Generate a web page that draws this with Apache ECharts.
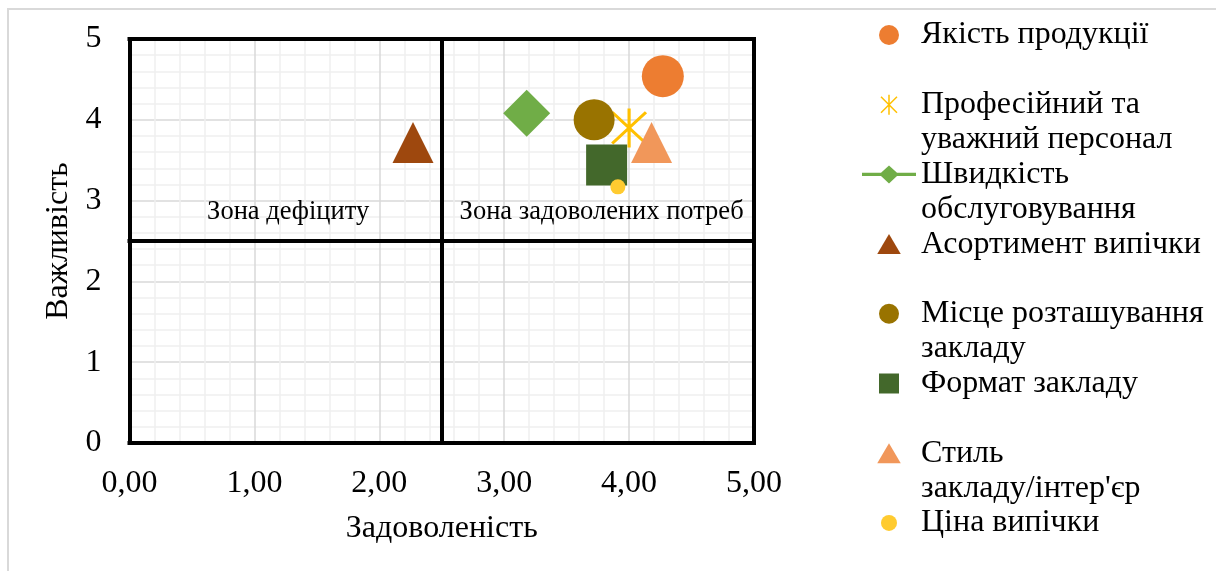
<!DOCTYPE html>
<html>
<head>
<meta charset="utf-8">
<script src="https://cdn.jsdelivr.net/npm/echarts@6/dist/echarts.min.js"></script>
<style>
html,body{margin:0;padding:0;background:#fff;}
#chart{width:1216px;height:571px;}
</style>
</head>
<body>
<div id="chart"></div>
<script>
// ---- data ----
const seriesNames = [
  'Якість продукції',
  'Професійний та уважний персонал',
  'Швидкість обслуговування',
  'Асортимент випічки',
  'Місце розташування закладу',
  'Формат закладу',
  "Стиль закладу/інтер'єр",
  'Ціна випічки'
];
const legendFirstLines = ['Якість продукції', 'Професійний та', 'Швидкість', 'Асортимент випічки', 'Місце розташування', 'Формат закладу', 'Стиль', 'Ціна випічки'];
const legendSecondLines = ['', 'уважний персонал', 'обслуговування', '', 'закладу', '', "закладу/інтер'єр", ''];
const satisfaction = [4.27, 4.00, 3.18, 2.27, 3.72, 3.82, 4.18, 3.91];
const importance   = [4.54, 3.90, 4.08, 3.72, 4.00, 3.44, 3.72, 3.17];
const zoneLabels = ['Зона дефіциту', 'Зона задоволених потреб'];
const zoneX = [1.27, 3.78];
const zoneY = [2.86, 2.86];
const thresholdX = 2.5;
const thresholdY = 2.5;
const axisMin = 0, axisMax = 5, axisStep = 1;
const xAxisTitle = 'Задоволеність';
const yAxisTitle = 'Важливість';

// ---- styles ----
const FONT = 'Liberation Serif';
const FS = 32;
const colors = ['#ED7D31', '#FFC000', '#70AD47', '#9E480E', '#997300', '#43682B', '#F1975A', '#FFCB30'];
const asteriskPath = 'path://M9.25,0L10.75,0L10.75,20L9.25,20ZM2.53,1.47L18.53,17.47L17.47,18.53L1.47,2.53ZM17.47,1.47L18.53,2.53L2.53,18.53L1.47,17.47Z';
const lineDiamondPath = 'path://M0,7.3L19,7.3L27,0L35,7.3L54,7.3L54,10.7L35,10.7L27,18L19,10.7L0,10.7Z';
const triPath = 'path://M10,0L20,17L0,17Z';
const rectPath = 'path://M0,0L19,0L19,19L0,19Z';
const smallCirclePath = 'path://M0,0M20,20M10,2A8,8,0,1,1,10,18A8,8,0,1,1,10,2Z';
const symbols = ['circle', asteriskPath, 'diamond', 'triangle', 'circle', 'rect', 'triangle', 'circle'];
const symbolSizes = [42, [36, 39], 47, 41, 41, 41, 41, 15];
const legendIcons = ['circle', asteriskPath, lineDiamondPath, triPath, 'circle', rectPath, triPath, smallCirclePath];

const LEG_LEFT = 862, LEG_TOP = 17.5, LEG_STEP = 69.7, LEG_LINE = 35;

const chart = echarts.init(document.getElementById('chart'), null, {renderer: 'canvas'});

const series = seriesNames.map((name, i) => ({
  name: name,
  type: 'scatter',
  symbol: symbols[i],
  symbolSize: symbolSizes[i],
  itemStyle: {color: colors[i], opacity: 1},
  emphasis: {disabled: true},
  data: [[satisfaction[i], importance[i]]],
  z: 3
}));

series.push({
  name: '__zones',
  type: 'scatter',
  symbolSize: 0.1,
  clip: false,
  silent: true,
  itemStyle: {color: '#000', opacity: 1},
  label: {
    show: true,
    position: 'inside',
    formatter: p => zoneLabels[p.dataIndex],
    fontFamily: FONT,
    fontSize: 26.5,
    color: '#000',
    opacity: 1
  },
  data: zoneX.map((x, i) => [x, zoneY[i]]),
  markLine: {
    silent: true,
    symbol: ['none', 'none'],
    label: {show: false},
    emphasis: {disabled: true},
    animation: false,
    lineStyle: {color: '#000', width: 4, type: 'solid', cap: 'square', opacity: 1},
    data: [
      {xAxis: axisMin}, {xAxis: thresholdX}, {xAxis: axisMax},
      {yAxis: axisMin}, {yAxis: thresholdY}, {yAxis: axisMax}
    ]
  },
  z: 2
});

const graphics = [{
  type: 'rect',
  shape: {x: 8, y: 9, width: 1400, height: 800},
  style: {fill: 'none', stroke: '#D9D9D9', lineWidth: 2},
  silent: true,
  z: -1
}];
legendSecondLines.forEach((t, i) => {
  if (!t) return;
  graphics.push({
    type: 'text',
    left: LEG_LEFT + 59,
    top: LEG_TOP + LEG_STEP * i + LEG_LINE,
    style: {text: t, font: FS + 'px "' + FONT + '"', fill: '#000', lineHeight: LEG_LINE, verticalAlign: 'top'},
    silent: true
  });
});

const axisCommon = {
  type: 'value',
  min: axisMin,
  max: axisMax,
  interval: axisStep,
  axisLine: {show: false},
  axisTick: {show: false},
  minorTick: {show: false, splitNumber: 5},
  splitLine: {show: true, lineStyle: {color: '#D9D9D9', width: 1.5}},
  minorSplitLine: {show: true, lineStyle: {color: '#EFEFEF', width: 1.5}},
  nameLocation: 'middle',
  nameTextStyle: {fontFamily: FONT, fontSize: FS, color: '#000'}
};

chart.setOption({
  animation: false,
  backgroundColor: '#fff',
  grid: {left: 129.5, right: 462, top: 39, bottom: 128, containLabel: false},
  xAxis: Object.assign({}, axisCommon, {
    name: xAxisTitle,
    nameGap: 70,
    axisLabel: {
      margin: 25,
      fontFamily: FONT, fontSize: FS, color: '#000',
      formatter: v => v.toFixed(2).replace('.', ',')
    }
  }),
  yAxis: Object.assign({}, axisCommon, {
    name: yAxisTitle,
    nameGap: 48,
    axisLabel: {margin: 28, fontFamily: FONT, fontSize: FS, color: '#000'}
  }),
  legend: {
    orient: 'vertical',
    left: LEG_LEFT,
    top: LEG_TOP,
    padding: 0,
    itemWidth: 54,
    itemHeight: 20,
    itemGap: LEG_STEP - LEG_LINE,
    symbolKeepAspect: true,
    selectedMode: false,
    textStyle: {fontFamily: FONT, fontSize: FS, color: '#000', lineHeight: LEG_LINE},
    formatter: name => legendFirstLines[seriesNames.indexOf(name)],
    data: seriesNames.map((n, i) => ({name: n, icon: legendIcons[i]}))
  },
  graphic: graphics,
  series: series
});
</script>
</body>
</html>
